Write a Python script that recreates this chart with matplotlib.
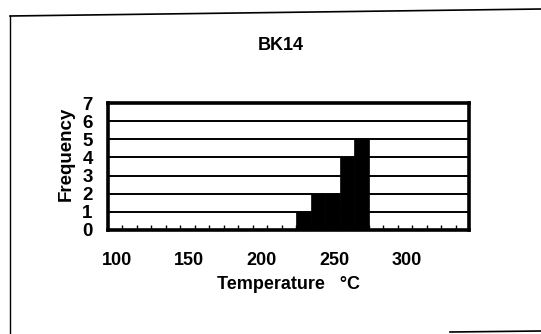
import matplotlib
matplotlib.use('Agg')
import matplotlib.pyplot as plt
from matplotlib.lines import Line2D

# datos del histograma
bin_left = [224, 234, 244, 254, 264]
counts = [1, 2, 2, 4, 5]
bin_width = 10
x_labels = [100, 150, 200, 250, 300]
minor_ticks = list(range(104, 344, 10))

plt.rcParams['font.family'] = ['Liberation Sans', 'DejaVu Sans']
plt.rcParams['font.weight'] = 'bold'

fig = plt.figure(figsize=(5.41, 3.34), dpi=100)
ax = fig.add_axes([0.1996, 0.3114, 0.6674, 0.3802])

# lineas horizontales detras de las barras
for k in range(1, 7):
    ax.axhline(k, color='black', lw=1.4, zorder=1)

ax.bar(bin_left, counts, width=bin_width, align='edge',
       color='black', edgecolor='black', lw=0.5, zorder=2)

ax.set_xlim(94, 343)
ax.set_ylim(0, 7)
ax.set_yticks(range(0, 8))
ax.set_xticks(x_labels)
ax.set_xticks(minor_ticks, minor=True)
ax.tick_params(axis='x', which='major', length=0, pad=16, labelsize=13)
ax.tick_params(axis='x', which='minor', direction='in', length=3.5,
               width=1, color='black')
ax.tick_params(axis='y', length=0, pad=11, labelsize=13.5)
for lbl in ax.get_xticklabels() + ax.get_yticklabels():
    lbl.set_fontweight('bold')

for s in ax.spines.values():
    s.set_linewidth(2.6)
    s.set_zorder(3)

ax.set_ylabel('Frequency', fontsize=13.5, fontweight='bold')
ax.yaxis.set_label_coords(-0.092, 0.6)
ax.set_xlabel('Temperature   °C', fontsize=13, fontweight='bold', labelpad=5)
fig.text(281 / 541, 1 - 45 / 334, 'BK14', ha='center', va='center',
         fontsize=13, fontweight='bold')

# marco exterior
fig.add_artist(Line2D([10 / 541, 10 / 541], [0, 1 - 16 / 334],
                      transform=fig.transFigure, color='black', lw=1))
fig.add_artist(Line2D([10 / 541, 1], [1 - 16 / 334, 1 - 9 / 334],
                      transform=fig.transFigure, color='black', lw=1.2))
fig.add_artist(Line2D([450 / 541, 1], [1 - 332 / 334, 1 - 331 / 334],
                      transform=fig.transFigure, color='black', lw=1.2))

plt.savefig('out.png', dpi=100)
